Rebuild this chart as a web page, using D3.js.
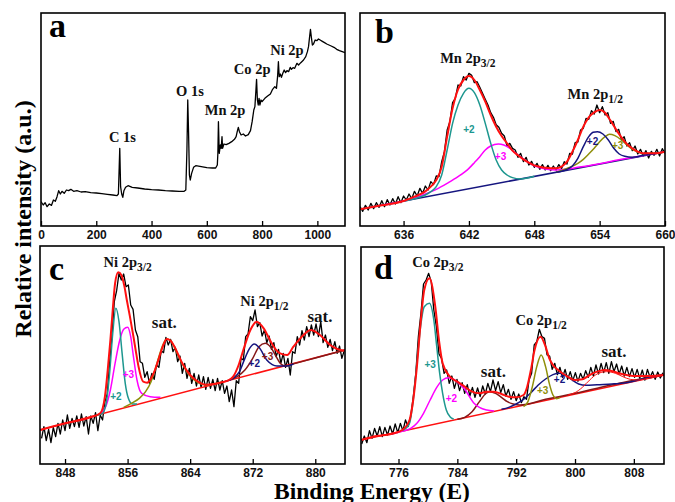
<!DOCTYPE html>
<html>
<head>
<meta charset="utf-8">
<script src="https://cdn.jsdelivr.net/npm/d3@7"></script>
<style>
  html, body { margin: 0; padding: 0; background: #fff; }
  svg { display: block; }
</style>
</head>
<body>
<div id="app"></div>
<script>
const width = 675,
    height = 502;

// ---- (a) survey spectrum : [binding energy, intensity a.u.]
const surveyData = [[0,95],[8,85],[15,92],[22,80],[30,88],[38,84],[45,100],[52,96],[58,110],[64,128],[70,118],[76,126],[84,120],[92,130],[100,128],[108,132],[118,126],[130,128],[145,124],[160,125],[180,122],[200,121],[220,119],[240,117],[260,115],[275,113],[280,118],[283,200],[285,255],[288,140],[292,118],[296,108],[300,128],[306,138],[315,143],[330,138],[350,136],[375,133],[400,131],[425,130],[450,128],[475,127],[500,126],[518,126],[524,130],[528,250],[531,400],[534,300],[537,175],[540,160],[545,180],[552,198],[560,203],[580,200],[600,197],[620,196],[632,196],[638,205],[640,240],[642,335],[645,240],[649,265],[652,255],[655,290],[657,255],[662,268],[670,266],[680,270],[690,275],[700,282],[706,290],[710,305],[714,318],[718,305],[724,295],[732,298],[740,292],[750,296],[758,308],[764,335],[770,370],[774,380],[777,420],[780,462],[783,400],[786,385],[789,405],[792,385],[796,400],[800,395],[810,405],[820,412],[830,418],[838,432],[846,440],[852,435],[856,470],[859,515],[862,470],[866,478],[870,468],[875,480],[880,490],[885,482],[890,488],[896,485],[902,498],[906,492],[912,497],[918,495],[926,510],[932,505],[940,512],[950,520],[958,530],[964,545],[968,560],[972,590],[975,612],[978,590],[982,565],[986,568],[992,580],[998,578],[1004,583],[1010,580],[1018,576],[1026,572],[1034,568],[1042,565],[1050,562],[1060,558],[1070,552],[1080,548],[1090,545],[1100,542]];
const surveyTicks = [0, 200, 400, 600, 800, 1000];
const surveyLabels = [
    {text: "C 1s", E: 295, I: 274},
    {text: "O 1s", E: 539, I: 413},
    {text: "Mn 2p", E: 666, I: 356},
    {text: "Co 2p", E: 764, I: 479},
    {text: "Ni 2p", E: 890, I: 536}
];

// ---- (b) Mn 2p
const mnStart = 632, mnStep = 0.25;
const mnRaw = [80,66,84,70,90,74,92,78,98,80,101,85,104,88,110,92,112,100,118,104,
    126,112,135,120,142,130,155,146,172,170,215,245,310,335,392,405,445,442,470,460,
    480,474,452,455,438,420,402,385,362,348,326,318,300,292,262,270,255,250,228,240,
    215,228,205,216,198,210,192,206,190,204,188,202,190,206,194,215,208,240,238,272,
    274,310,315,345,342,368,358,385,362,380,355,362,330,336,305,312,280,290,262,272,
    248,262,238,252,232,248,226,246,234,252,232,254,240];
const mnBase = [[632,72],[660,245]];
const mnFit = [[632,72],[634,84],[636,97],[637,110],[638,126],[638.5,140],[639,160],[639.5,200],[640,290],[640.5,375],[641,432],[641.5,460],[642,472],[642.5,460],[643,430],[643.5,395],[644,355],[644.5,320],[645,292],[645.5,270],[646,248],[646.5,234],[647,222],[647.5,212],[648,204],[648.5,200],[649,197],[650,195],[650.5,200],[651,215],[651.5,245],[652,280],[652.5,320],[653,348],[653.5,363],[654,370],[654.5,362],[655,338],[655.5,312],[656,288],[656.5,268],[657,255],[657.5,245],[658,240],[659,240],[660,245]];
const mn32Two = [[636,97],[637,104],[638,115],[638.5,125],[639,140],[639.5,175],[640,250],[640.5,330],[641,385],[641.5,420],[642,435],[642.5,422],[643,385],[643.5,330],[644,270],[644.5,220],[645,190],[645.5,175],[646,167],[646.7,163],[648,171]];
const mn32Three = [[634,84],[636,97],[637,106],[638,118],[639,132],[640,150],[641,170],[642,195],[642.5,212],[643,230],[643.5,250],[644,262],[644.7,268],[645.2,265],[645.7,256],[646.2,243],[646.7,230],[647.2,218],[647.7,208],[648.2,200],[649,193],[650,190],[651,193],[652,198],[653,203],[656,222],[660,245]];
const mn12Two = [[650,183],[651,192],[651.5,202],[652,225],[652.5,260],[653,290],[653.4,303],[653.8,305],[654.3,298],[654.8,280],[655.3,255],[655.8,238],[656.3,231],[657,228],[658,234],[659,239],[660,245]];
const mn12Three = [[650,183],[651,195],[652,210],[652.5,222],[653,238],[653.5,255],[654,275],[654.5,290],[654.9,297],[655.4,293],[656,280],[656.5,265],[657,252],[657.5,244],[658,239],[659,240],[660,245]];
const mnTicks = [636, 642, 648, 654, 660];
const mnLabels = [
    {text: "Mn 2p", sub: "3/2", E: 641.9, I: 511},
    {text: "Mn 2p", sub: "1/2", E: 653.6, I: 404}
];
const mnStates = [
    {text: "+2", E: 642.0, I: 301},
    {text: "+3", E: 644.9, I: 220},
    {text: "+2", E: 653.35, I: 265},
    {text: "+3", E: 655.65, I: 252}
];

// ---- (c) Ni 2p
const niStart = 845, niStep = 0.3;
const niRaw = [105,140,98,132,92,138,110,150,118,160,
    128,175,135,165,140,172,138,178,142,170,
    118,172,150,182,128,175,160,215,238,330,
    410,515,548,600,580,598,560,565,505,492,
    430,410,335,330,288,305,270,300,282,325,
    318,368,362,408,385,402,365,378,335,352,
    300,330,285,315,270,300,262,295,258,290,
    252,288,255,282,248,285,250,278,240,262,
    215,250,200,278,270,345,340,410,418,470,
    458,490,440,452,412,430,392,412,372,392,
    350,372,330,360,318,345,295,365,360,410,
    385,428,400,440,410,445,415,448,410,455,
    392,415,378,402,368,395,360,382,345,368];
const niBase = [[844.8,130],[883.8,370]];
const niFit = [[844.8,130],[848,150],[851,166],[852.5,180],[853.1,230],[853.5,320],[853.8,400],[854.1,490],[854.4,570],[854.8,603],[855.2,595],[855.6,560],[855.9,520],[856.3,470],[856.75,410],[857.1,360],[857.4,320],[858,275],[858.5,272],[859,285],[859.5,310],[860,345],[860.5,380],[861,403],[861.5,398],[862,380],[862.5,355],[863,330],[864,295],[865,275],[866,266],[867,268],[868,273],[868.8,278],[869.5,290],[870.2,325],[870.8,370],[871.7,430],[872.5,455],[873.4,435],[874.2,400],[875,370],[875.5,360],[876.4,355],[877.2,380],[878.5,415],[879.4,430],[880.6,415],[881.9,385],[882.8,373],[883.8,368]];
const ni32Two = [[852,174],[852.8,180],[853.3,215],[853.7,300],[854.1,420],[854.5,495],[854.9,455],[855.3,360],[855.7,270],[856.1,225],[856.6,208],[857.2,208]];
const ni32Three = [[852.5,178],[853.2,200],[853.8,250],[854.4,330],[855,400],[855.5,432],[856,438],[856.4,410],[856.75,350],[857.2,280],[857.8,240],[858.9,230],[860.2,228]];
const niSat32 = [[855.5,198],[856.5,210],[857.5,225],[858.3,245],[859,275],[859.5,310],[860,350],[860.5,385],[861,403],[861.5,398],[862,378],[862.5,352],[863,328],[864,292],[865,272],[866,265],[867,268],[868,273]];
const ni12Two = [[868.5,276],[869.5,285],[870.3,305],[871,345],[871.6,375],[872.2,388],[872.8,378],[873.8,340],[874.5,326],[875.1,322],[876.4,322],[877.2,328]];
const ni12Three = [[869,280],[870,290],[871,310],[872,345],[872.8,380],[873.6,390],[874.3,378],[875,350],[875.6,328],[876.2,322],[877,327],[880,346],[883.8,370]];
const niTicks = [848, 856, 864, 872, 880];
const niLabels = [
    {text: "Ni 2p", sub: "3/2", E: 856.0, I: 619},
    {text: "sat.", E: 860.7, I: 435},
    {text: "Ni 2p", sub: "1/2", E: 873.5, I: 503},
    {text: "sat.", E: 880.6, I: 455}
];
const niStates = [
    {text: "+2", E: 854.5, I: 220},
    {text: "+3", E: 856.1, I: 285},
    {text: "+2", E: 872.2, I: 318},
    {text: "+3", E: 873.9, I: 340}
];

// ---- (d) Co 2p
const coStart = 771, coStep = 0.35;
const coRaw = [88,112,92,128,105,135,112,140,110,138,
    115,142,118,148,122,150,128,160,140,170,
    228,300,410,480,568,580,600,575,490,440,
    358,345,300,310,270,292,255,282,248,272,
    240,266,232,258,228,256,230,262,238,270,
    245,280,248,275,242,266,232,252,222,245,
    218,238,212,230,222,280,300,385,395,432,
    410,405,355,352,312,330,296,318,288,312,
    282,305,278,302,276,300,282,308,288,318,
    292,325,298,330,302,332,300,335,305,328,
    298,322,292,318,290,314,288,312,285,310,
    280,312,288,305,282,304,286,302];
const coBase = [[770.9,100],[812.1,295]];
const coFit = [[770.9,100],[773,112],[775,118],[776.5,130],[777.5,160],[778,220],[778.5,320],[779,450],[779.5,550],[780.2,585],[781,500],[781.5,400],[782,330],[783,290],[784,275],[785,260],[786,245],[787,240],[788,245],[789,245],[790,238],[791,230],[792,228],[793,235],[793.5,260],[794,310],[794.5,370],[795.3,410],[796,380],[796.5,345],[797,325],[798,305],[799,290],[800,280],[801,282],[802,295],[803,305],[804,310],[805,307],[806,300],[807,295],[808,292],[810,292],[812.1,295]];
const co32Three = [[776.5,128],[777,135],[777.5,150],[778,220],[778.5,330],[779,440],[779.5,500],[780.2,510],[780.8,460],[781.2,380],[781.6,300],[782,240],[782.5,190],[783,170],[783.5,163]];
const co32Two = [[775,118],[776.5,126],[777.6,134],[778.5,150],[779.4,180],[780.3,220],[781.2,258],[782,280],[782.8,287],[783.5,282],[784.3,268],[785,252],[786.2,212],[787,198],[788,190],[789,187]];
const coSat32 = [[784,162],[785,168],[786,185],[787,215],[787.8,238],[788.4,245],[789.2,240],[790,228],[790.8,215],[791.6,208],[792.5,205],[796,222],[800,240],[806,270],[812.1,297]];
const co12Three = [[793,200],[793.6,215],[794.2,260],[794.8,320],[795.4,355],[796,320],[796.5,270],[797,235],[797.5,224],[798,228]];
const co12Two = [[790,192],[791,198],[792,208],[793,222],[794,242],[795,265],[796,283],[797,296],[797.9,300],[798.8,294],[799.6,280],[800.5,268],[801.5,264],[803,266],[805,268],[807,272],[809,282],[812.1,295]];
const coSat12 = [[799,235],[800,242],[801,258],[802,280],[803,298],[804.3,305],[805.5,300],[806.5,290],[807.5,282],[808.5,280],[810,285],[812.1,295]];
const coTicks = [776, 784, 792, 800, 808];
const coLabels = [
    {text: "Co 2p", sub: "3/2", E: 781.35, I: 618},
    {text: "sat.", E: 788.9, I: 288},
    {text: "Co 2p", sub: "1/2", E: 795.4, I: 445},
    {text: "sat.", E: 805.3, I: 348}
];
const coStates = [
    {text: "+3", E: 780.3, I: 315},
    {text: "+2", E: 783.2, I: 215},
    {text: "+3", E: 795.6, I: 238},
    {text: "+2", E: 797.9, I: 270}
];

const teal = "#1d978f",
    magenta = "#ff00ff",
    navy = "#15157f",
    olive = "#8f8f0a",
    brown = "#861818",
    red = "#ff1010";

const serif = "'Liberation Serif', 'Times New Roman', serif";
const sans = "'Liberation Sans', Arial, sans-serif";

const svg = d3.select("#app")
    .append("svg")
    .attr("width", width)
    .attr("height", height);

svg.append("rect").attr("width", width).attr("height", height).attr("fill", "#fff");

const rawPoints = (start, step, values) => values.map((v, i) => [start + i * step, v]);

function drawPanel(p) {
    const x = d3.scaleLinear().domain(p.xDomain).range([p.frame[0], p.frame[2]]);
    const y = d3.scaleLinear().domain(p.yDomain).range([p.frame[3], p.frame[1]]);
    const g = svg.append("g");

    g.append("clipPath").attr("id", "clip-" + p.id)
        .append("rect")
        .attr("x", p.frame[0]).attr("y", p.frame[1])
        .attr("width", p.frame[2] - p.frame[0]).attr("height", p.frame[3] - p.frame[1]);
    const plot = g.append("g").attr("clip-path", "url(#clip-" + p.id + ")");

    const straight = d3.line().x(d => x(d[0])).y(d => y(d[1]));
    const smooth = d3.line().x(d => x(d[0])).y(d => y(d[1])).curve(d3.curveMonotoneX);

    //measured spectrum
    plot.append("path")
        .datum(p.raw)
        .attr("d", straight)
        .attr("fill", "none")
        .attr("stroke", "#000")
        .attr("stroke-width", 1.3)
        .attr("stroke-linejoin", "round");

    //fitted components
    p.curves.forEach(c => {
        plot.append("path")
            .datum(c.data)
            .attr("d", smooth)
            .attr("fill", "none")
            .attr("stroke", c.color)
            .attr("stroke-width", c.w || 1.5);
    });

    //x axis, ticks pointing inwards
    const axis = g.append("g")
        .attr("transform", "translate(0," + p.frame[3] + ")")
        .call(d3.axisBottom(x).tickValues(p.ticks).tickSize(-5).tickPadding(4).tickFormat(d3.format("d")));
    axis.select(".domain").remove();
    axis.selectAll("line").attr("stroke", "#000").attr("stroke-width", 1.3);
    axis.selectAll("text")
        .attr("fill", "#111")
        .style("font-family", sans)
        .style("font-weight", "bold")
        .style("font-size", "12px");

    //frame
    g.append("rect")
        .attr("x", p.frame[0]).attr("y", p.frame[1])
        .attr("width", p.frame[2] - p.frame[0]).attr("height", p.frame[3] - p.frame[1])
        .attr("fill", "none")
        .attr("stroke", "#000")
        .attr("stroke-width", 1.6);

    //panel letter
    g.append("text")
        .attr("x", p.frame[0] + p.letterAt[0])
        .attr("y", p.frame[1] + p.letterAt[1])
        .style("font-family", serif)
        .style("font-weight", "bold")
        .style("font-size", "34px")
        .text(p.letter);

    //peak labels
    p.labels.forEach(d => {
        const t = g.append("text")
            .attr("x", x(d.E))
            .attr("y", y(d.I))
            .attr("text-anchor", "middle")
            .attr("fill", "#111")
            .style("font-family", serif)
            .style("font-weight", "bold")
            .style("font-size", d.text === "sat." ? "17px" : "14.5px");
        t.append("tspan").text(d.text);
        if (d.sub) t.append("tspan").attr("dy", 4).style("font-size", "11.5px").text(d.sub);
    });

    //oxidation state labels
    p.states.forEach((d, i) => {
        g.append("text")
            .attr("x", x(d.E))
            .attr("y", y(d.I))
            .attr("text-anchor", "middle")
            .attr("fill", p.stateColors[i])
            .style("font-family", sans)
            .style("font-weight", "bold")
            .style("font-size", "10px")
            .text(d.text);
    });
}

drawPanel({
    id: "a", letter: "a", letterAt: [8, 24],
    frame: [41, 13, 345, 226],
    xDomain: [0, 1100], yDomain: [22, 661],
    ticks: surveyTicks,
    raw: surveyData,
    curves: [],
    labels: surveyLabels,
    states: [], stateColors: []
});

drawPanel({
    id: "b", letter: "b", letterAt: [15, 30],
    frame: [360, 13, 665, 226],
    xDomain: [632, 660], yDomain: [22, 661],
    ticks: mnTicks,
    raw: rawPoints(mnStart, mnStep, mnRaw),
    curves: [
        {data: mnBase, color: navy, w: 1.6},
        {data: mn32Three, color: magenta},
        {data: mn32Two, color: teal},
        {data: mn12Three, color: olive},
        {data: mn12Two, color: navy},
        {data: mnFit, color: red, w: 2}
    ],
    labels: mnLabels,
    states: mnStates, stateColors: [teal, magenta, navy, olive]
});

drawPanel({
    id: "c", letter: "c", letterAt: [9, 34],
    frame: [40, 246, 345, 464],
    xDomain: [844.8, 883.8], yDomain: [28, 682],
    ticks: niTicks,
    raw: rawPoints(niStart, niStep, niRaw),
    curves: [
        {data: niBase, color: red, w: 1.5},
        {data: ni32Three, color: magenta},
        {data: ni32Two, color: teal},
        {data: niSat32, color: olive},
        {data: ni12Three, color: brown},
        {data: ni12Two, color: navy},
        {data: niFit, color: red, w: 2}
    ],
    labels: niLabels,
    states: niStates, stateColors: [teal, magenta, navy, brown]
});

drawPanel({
    id: "d", letter: "d", letterAt: [13, 32],
    frame: [361, 247, 664, 464],
    xDomain: [770.9, 812.1], yDomain: [28, 679],
    ticks: coTicks,
    raw: rawPoints(coStart, coStep, coRaw),
    curves: [
        {data: coBase, color: red, w: 1.5},
        {data: coSat32, color: brown},
        {data: co32Two, color: magenta},
        {data: co32Three, color: teal},
        {data: co12Two, color: navy},
        {data: co12Three, color: olive},
        {data: coSat12, color: red, w: 1},
        {data: coFit, color: red, w: 2}
    ],
    labels: coLabels,
    states: coStates, stateColors: [teal, magenta, olive, navy]
});

//Shared axis titles
svg.append("text")
    .attr("transform", "translate(31,219) rotate(-90)")
    .attr("text-anchor", "middle")
    .style("font-family", serif)
    .style("font-weight", "bold")
    .style("font-size", "24px")
    .text("Relative intensity (a.u.)");

svg.append("text")
    .attr("x", 372)
    .attr("y", 499)
    .attr("text-anchor", "middle")
    .style("font-family", serif)
    .style("font-weight", "bold")
    .style("font-size", "23.5px")
    .text("Binding Energy (E)");
</script>
</body>
</html>
